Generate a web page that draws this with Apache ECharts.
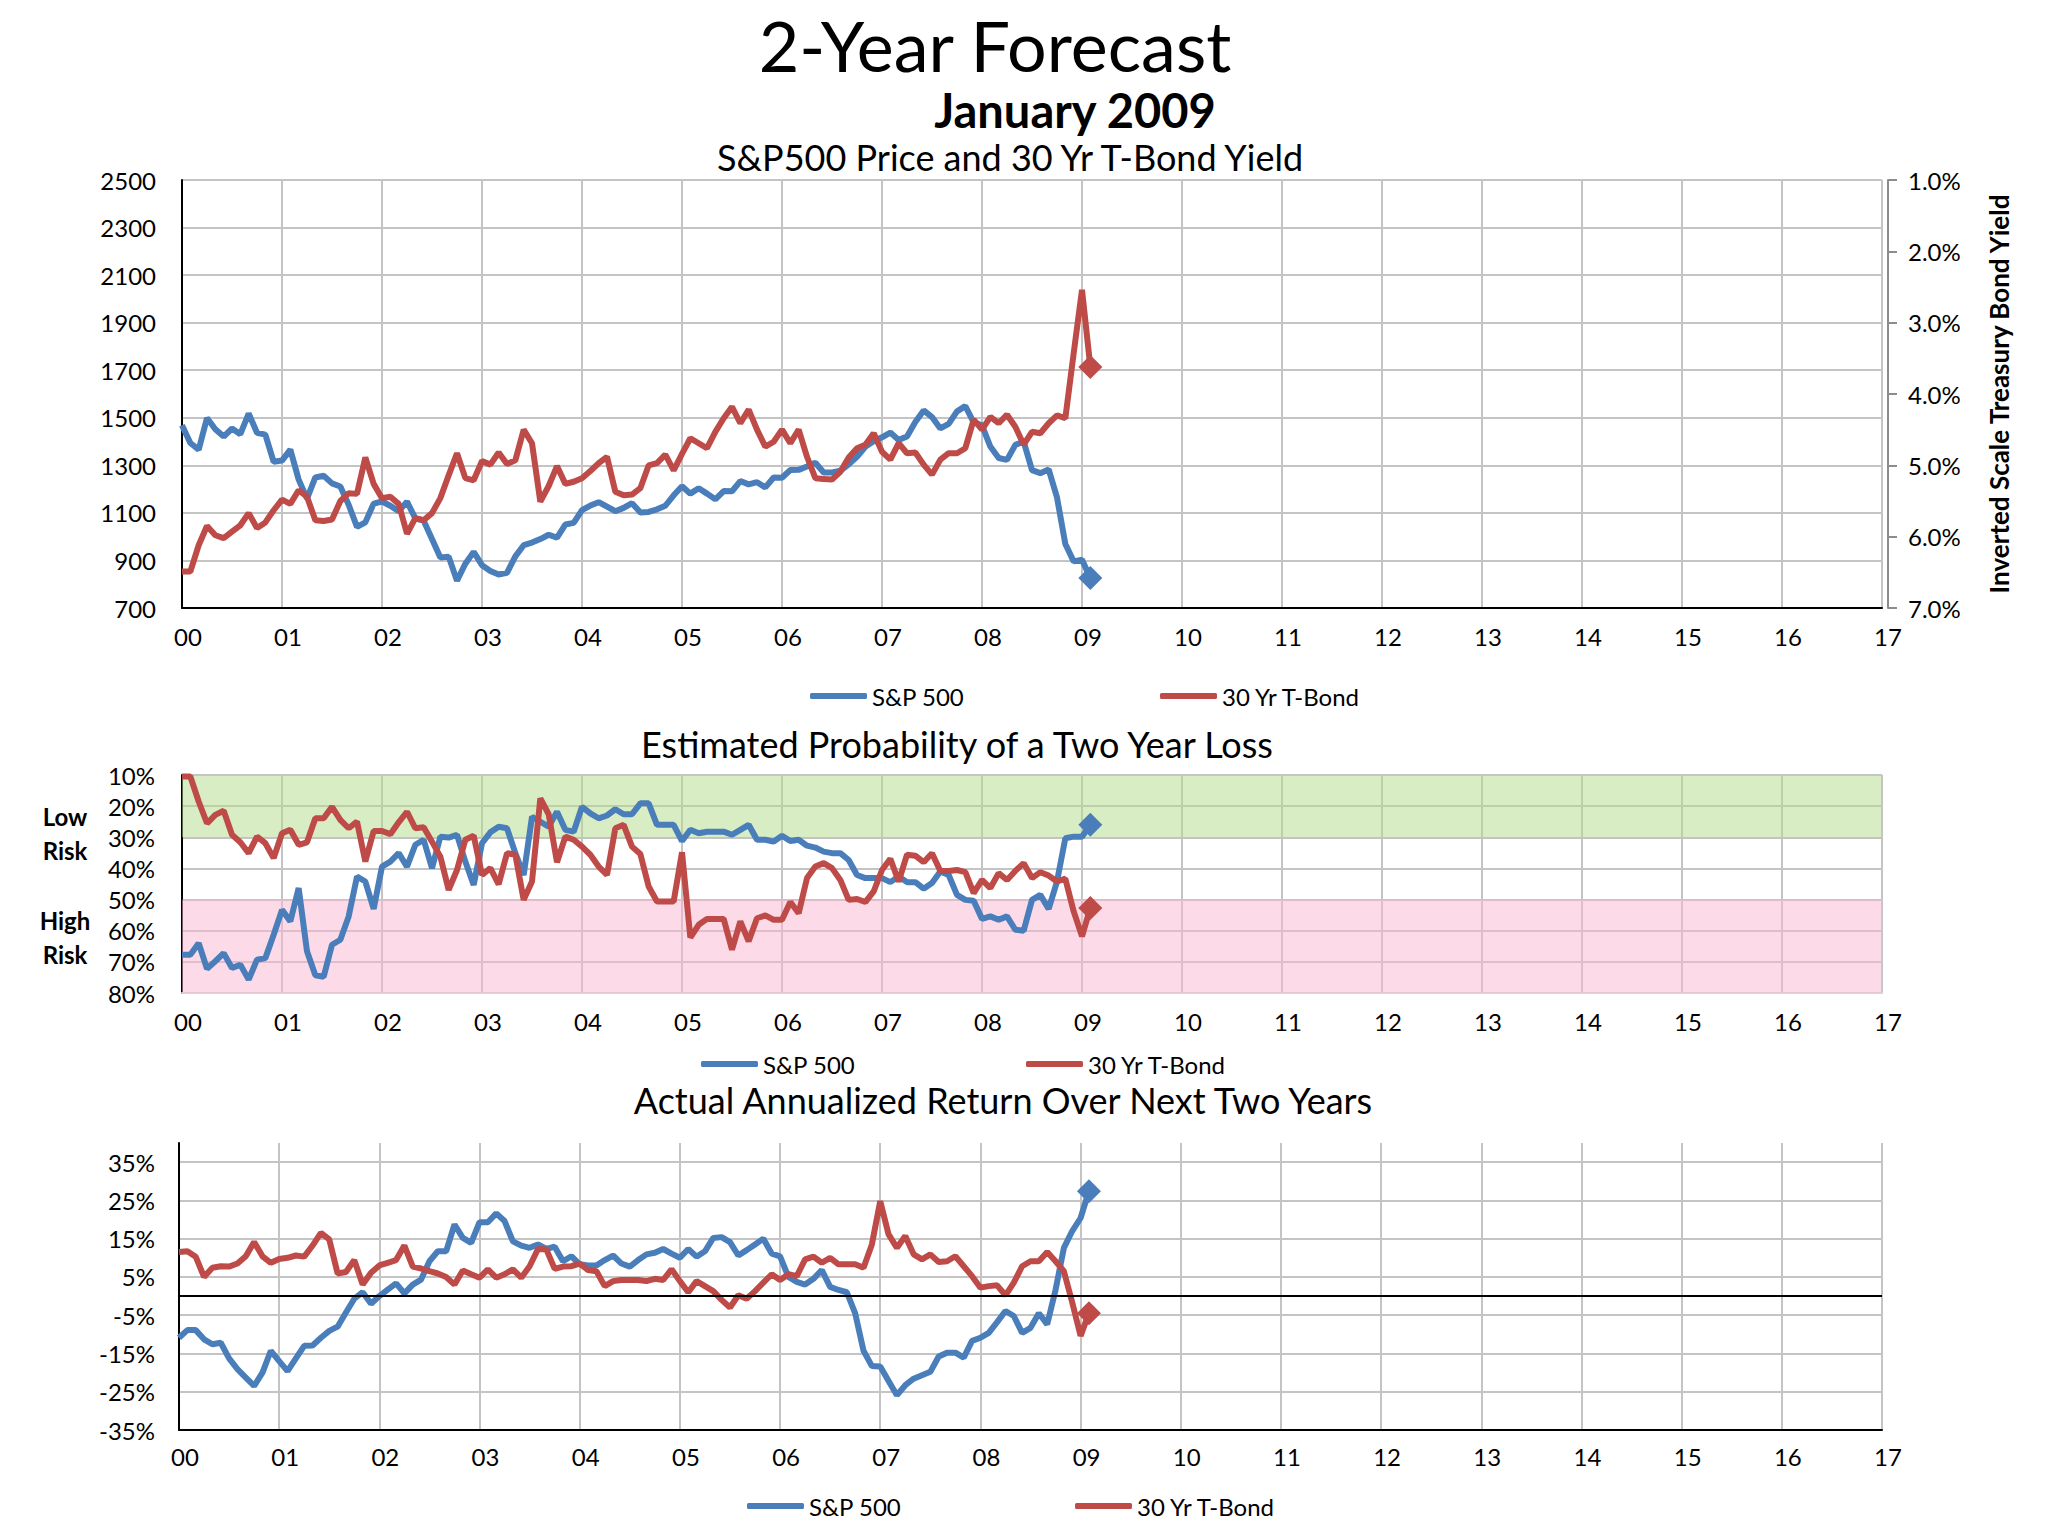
<!DOCTYPE html>
<html><head><meta charset="utf-8">
<script src="https://cdn.jsdelivr.net/npm/echarts@6/dist/echarts.min.js"></script>
<style>html,body{margin:0;padding:0;background:#fff}#c{width:2048px;height:1536px}</style>
</head><body><div id="c"></div>
<script>
// ---- data (monthly, starting Jan 2000; last point = latest reading) ----
const spPrice = [1469,1394,1366,1499,1452,1421,1455,1431,1518,1437,1429,1315,
 1320,1366,1240,1160,1249,1256,1224,1211,1134,1041,1060,1139,
 1148,1130,1107,1147,1077,1067,990,912,916,815,886,936,
 880,856,841,848,917,964,975,990,1008,996,1051,1058,
 1112,1131,1145,1126,1107,1121,1141,1102,1104,1115,1130,1174,
 1212,1181,1204,1181,1157,1192,1191,1234,1220,1229,1207,1249,
 1248,1280,1281,1295,1311,1270,1270,1277,1304,1336,1378,1401,
 1418,1438,1407,1421,1482,1531,1503,1455,1474,1527,1549,1481,
 1468,1379,1331,1323,1386,1400,1280,1267,1283,1165,969,896,
 903,826];
const bondYield = [6.49,6.49,6.12,5.85,5.98,6.02,5.93,5.84,5.67,5.88,5.80,5.63,
 5.48,5.54,5.35,5.44,5.77,5.78,5.76,5.50,5.39,5.40,4.89,5.26,
 5.46,5.44,5.54,5.96,5.74,5.77,5.67,5.46,5.14,4.83,5.18,5.21,
 4.94,4.99,4.82,4.98,4.93,4.50,4.69,5.51,5.29,5.01,5.26,5.23,
 5.18,5.08,4.97,4.88,5.37,5.42,5.41,5.32,5.00,4.97,4.85,5.07,
 4.84,4.62,4.69,4.76,4.53,4.34,4.18,4.41,4.22,4.50,4.74,4.67,
 4.50,4.69,4.50,4.88,5.18,5.19,5.20,5.09,4.89,4.76,4.71,4.55,
 4.81,4.92,4.69,4.83,4.82,4.99,5.13,4.92,4.83,4.83,4.76,4.36,
 4.50,4.32,4.41,4.29,4.46,4.71,4.53,4.55,4.41,4.30,4.34,3.43,
 2.54,3.62];
const spLossProb = [67.7,67.7,64.0,72.2,69.8,67.2,72.0,70.9,75.7,69.3,68.8,61.3,
 53.3,57.0,46.3,66.6,74.3,74.8,64.5,62.9,55.4,42.6,44.2,53.0,
 39.4,37.8,35.1,39.4,32.4,30.8,39.9,29.8,30.1,29.2,37.8,45.3,
 31.9,28.4,26.6,27.1,35.1,42.1,23.4,25.0,26.6,21.8,27.6,28.2,
 20.2,22.3,23.9,23.0,21.0,22.6,22.6,19.1,19.1,26.0,26.0,26.0,
 31.2,27.6,28.7,28.2,28.2,28.2,29.2,27.6,26.0,30.8,30.8,31.4,
 29.5,31.2,30.8,32.7,33.3,34.6,35.1,35.1,37.3,42.1,43.1,43.1,
 43.1,44.4,42.6,44.4,44.4,46.5,44.7,41.0,42.1,48.5,50.1,50.4,
 56.2,55.4,56.5,55.4,59.7,60.0,50.1,48.5,53.0,44.2,30.3,29.8,
 29.8,26.0];
const bondLossProb = [10.5,10.5,18.5,25.5,22.8,21.5,29.2,31.6,35.1,29.8,31.9,36.7,
 28.7,27.6,32.4,31.6,23.9,23.9,20.2,24.4,27.1,25.0,37.8,28.0,
 28.0,29.0,25.2,21.8,27.1,26.8,31.4,36.2,46.9,40.5,30.8,29.5,
 42.1,39.9,45.1,35.1,35.6,50.1,44.2,17.5,22.6,38.0,29.8,30.8,
 33.0,35.6,39.4,42.1,27.1,26.0,33.0,35.4,45.8,50.6,50.6,50.6,
 34.8,62.2,58.1,56.2,56.2,56.2,66.1,57.0,63.4,56.0,55.1,56.5,
 56.5,50.8,54.4,43.1,39.4,38.3,39.9,43.7,50.1,49.8,50.8,47.4,
 40.5,36.9,44.2,35.6,35.9,38.0,35.1,40.8,40.8,40.5,41.2,47.9,
 43.7,46.3,41.5,43.7,40.8,38.3,43.1,41.2,42.3,44.2,43.3,53.8,
 61.8,52.7];
const spReturn = [-10.9,-8.9,-8.9,-11.3,-12.6,-12.2,-16.3,-19.1,-21.3,-23.5,-20.0,-14.3,
 -17.0,-19.6,-16.3,-13.0,-12.9,-10.9,-9.1,-8.0,-4.3,-0.7,1.0,-2.0,
 0.0,1.7,3.3,0.7,3.0,4.3,9.1,11.7,11.7,18.7,15.2,13.9,
 19.3,19.3,21.6,19.6,14.3,13.2,12.6,13.5,12.3,12.9,9.1,10.4,
 8.3,8.0,8.0,9.4,10.6,8.5,7.7,9.4,10.9,11.3,12.3,11.1,
 10.0,12.3,10.3,11.7,15.2,15.4,14.1,10.6,12.0,13.5,15.0,11.1,
 10.4,5.0,3.7,3.0,4.5,6.8,2.4,1.6,1.0,-4.5,-14.3,-18.3,
 -18.4,-22.2,-25.9,-23.3,-21.6,-20.7,-19.8,-15.8,-14.8,-14.8,-16.1,-11.7,
 -10.9,-9.6,-6.8,-3.9,-5.2,-9.6,-8.3,-4.5,-7.4,1.6,12.6,17.0,
 20.4,27.4];
const bondReturn = [11.5,11.7,10.3,5.0,7.4,7.8,7.7,8.5,10.4,14.1,10.4,8.7,
 9.7,10.0,10.6,10.3,13.2,16.5,14.8,5.9,6.3,9.4,3.0,6.1,
 8.0,8.7,9.4,13.2,7.7,7.2,6.5,5.9,5.0,3.0,6.7,5.7,
 4.8,7.0,4.8,5.7,7.0,4.8,7.8,12.3,12.2,7.1,7.7,7.8,
 8.5,6.8,6.5,2.6,3.9,4.2,4.2,4.2,3.9,4.5,4.2,7.0,
 3.9,1.0,3.9,2.6,1.3,-1.0,-3.0,0.2,-0.7,1.3,3.5,5.7,
 4.2,5.7,5.2,9.6,10.3,8.7,10.0,8.3,8.3,8.3,7.4,13.5,
 24.8,16.1,12.6,15.7,10.9,9.6,10.9,8.9,9.1,10.4,7.8,5.2,
 2.2,2.6,2.8,0.2,3.5,7.8,9.1,9.1,11.5,9.1,6.5,-1.7,
 -10.4,-4.5];
const yearLabels = ['00','01','02','03','04','05','06','07','08','09','10','11','12','13','14','15','16','17'];
const seriesNames = ['S&P 500','30 Yr T-Bond'];

// month categories Jan 2000 .. Jan 2017
const months = [];
for (let y = 2000; y <= 2017; y++) {
  for (let m = 1; m <= 12; m++) {
    if (y === 2017 && m > 1) break;
    months.push(y + '-' + String(m).padStart(2, '0'));
  }
}

const FONT = 'Lato';
const BLUE = '#4a7ebb', RED = '#be4b48';
const GRID = '#c4c4c4';
const isYear = (i, v) => String(v).endsWith('-01');

function withDiamond(arr) {
  return arr.map((v, i) => i === arr.length - 1 ? { value: v, symbol: 'diamond', symbolSize: 24 } : v);
}

function xAxisFor(gridIndex, lineColor, margin) {
  return {
    type: 'category', gridIndex, data: months, boundaryGap: false,
    axisLine: { show: true, onZero: false, lineStyle: { color: lineColor, width: 2 } },
    axisTick: { show: false },
    axisLabel: {
      interval: isYear, color: '#000', fontFamily: FONT, fontSize: 24, margin,
      padding: [0, 0, 0, 12],
      formatter: v => yearLabels[parseInt(v.slice(0, 4)) - 2000]
    },
    splitLine: { show: true, interval: isYear, lineStyle: { color: GRID, width: 2 } }
  };
}

function lineSeries(name, xi, yi, data, color, z) {
  return {
    name, type: 'line', xAxisIndex: xi, yAxisIndex: yi, data: withDiamond(data),
    symbol: 'none', showSymbol: true, showAllSymbol: true, z,
    lineStyle: { color, width: 6 }, itemStyle: { color, borderWidth: 0 },
    emphasis: { disabled: true }, animation: false
  };
}

const labelStyle = { color: '#000', fontFamily: FONT, fontSize: 24 };

function legendAt(name, left, top) {
  return {
    data: [name], left, top, icon: 'roundRect', itemWidth: 57, itemHeight: 6, itemGap: 0,
    textStyle: { color: '#000', fontFamily: FONT, fontSize: 24 }, selectedMode: false
  };
}

const option = {
  backgroundColor: '#fff',
  animation: false,
  grid: [
    { left: 182, top: 180, width: 1700, height: 428 },
    { left: 182, top: 775, width: 1700, height: 218 },
    { left: 179, top: 1143, width: 1703, height: 287 }
  ],
  xAxis: [xAxisFor(0, '#000', 16), xAxisFor(1, '#d6d6d6', 16), xAxisFor(2, '#000', 14)],
  yAxis: [
    { type: 'value', gridIndex: 0, min: 700, max: 2500, interval: 200,
      axisLine: { show: true, lineStyle: { color: '#000', width: 2 } }, axisTick: { show: false },
      axisLabel: Object.assign({ margin: 26, formatter: v => String(v) }, labelStyle),
      splitLine: { lineStyle: { color: GRID, width: 2 } } },
    { type: 'value', gridIndex: 0, position: 'right', min: 1, max: 7, interval: 1, inverse: true, offset: 6,
      axisLine: { show: true, lineStyle: { color: '#8c8c8c', width: 2 } },
      axisTick: { show: true, length: 9, lineStyle: { color: '#8c8c8c', width: 2 } },
      axisLabel: Object.assign({ margin: 20, formatter: v => v.toFixed(1) + '%' }, labelStyle),
      splitLine: { show: false },
      name: 'Inverted Scale Treasury Bond Yield', nameLocation: 'middle', nameRotate: 90, nameGap: 98,
      nameTextStyle: { color: '#000', fontFamily: FONT, fontSize: 26, fontWeight: 'bold' } },
    { type: 'value', gridIndex: 1, min: 10, max: 80, interval: 10, inverse: true,
      axisLine: { show: true, lineStyle: { color: '#000', width: 2 } }, axisTick: { show: false },
      axisLabel: Object.assign({ margin: 27, formatter: '{value}%' }, labelStyle),
      splitLine: { lineStyle: { color: GRID, width: 2 } } },
    { type: 'value', gridIndex: 2, min: -35, max: 40, interval: 10,
      axisLine: { show: true, lineStyle: { color: '#000', width: 2 } }, axisTick: { show: false },
      axisLabel: Object.assign({ margin: 24, formatter: '{value}%', showMaxLabel: false }, labelStyle),
      splitLine: { showMaxLine: false, lineStyle: { color: GRID, width: 2 } } }
  ],
  legend: [
    legendAt(seriesNames[0], 805, 679), legendAt(seriesNames[1], 1155, 679),
    legendAt(seriesNames[0], 696, 1047), legendAt(seriesNames[1], 1021, 1047),
    legendAt(seriesNames[0], 742, 1489), legendAt(seriesNames[1], 1070, 1489)
  ],
  series: [
    lineSeries(seriesNames[0], 0, 0, spPrice, BLUE, 3),
    lineSeries(seriesNames[1], 0, 1, bondYield, RED, 4),
    { type: 'line', xAxisIndex: 1, yAxisIndex: 2, data: spLossProb, symbol: 'none', z: 1, silent: true,
      lineStyle: { opacity: 0 },
      markArea: { silent: true, data: [
        [{ yAxis: 10, itemStyle: { color: 'rgba(177,219,137,0.5)' } }, { yAxis: 30 }],
        [{ yAxis: 50, itemStyle: { color: 'rgba(251,181,209,0.5)' } }, { yAxis: 80 }]
      ] } },
    lineSeries(seriesNames[0], 1, 2, spLossProb, BLUE, 3),
    lineSeries(seriesNames[1], 1, 2, bondLossProb, RED, 4),
    { type: 'line', xAxisIndex: 2, yAxisIndex: 3, data: spReturn, symbol: 'none', z: 1, silent: true,
      lineStyle: { opacity: 0 },
      markLine: { silent: true, symbol: 'none', label: { show: false },
        lineStyle: { color: '#000', width: 2, type: 'solid' }, data: [{ yAxis: 0 }] } },
    lineSeries(seriesNames[0], 2, 3, spReturn, BLUE, 3),
    lineSeries(seriesNames[1], 2, 3, bondReturn, RED, 4)
  ],
  graphic: [
    { type: 'text', x: 995, y: 45, style: { text: '2-Year Forecast', font: '70px Lato', fill: '#000', textAlign: 'center', textVerticalAlign: 'middle' } },
    { type: 'text', x: 1075, y: 110, style: { text: 'January 2009', font: 'bold 47px Lato', fill: '#000', textAlign: 'center', textVerticalAlign: 'middle' } },
    { type: 'text', x: 1010, y: 157, style: { text: 'S&P500 Price and 30 Yr T-Bond Yield', font: '36px Lato', fill: '#000', textAlign: 'center', textVerticalAlign: 'middle' } },
    { type: 'text', x: 957, y: 744, style: { text: 'Estimated Probability of a Two Year Loss', font: '36px Lato', fill: '#000', textAlign: 'center', textVerticalAlign: 'middle' } },
    { type: 'text', x: 1003, y: 1100, style: { text: 'Actual Annualized Return Over Next Two Years', font: '36px Lato', fill: '#000', textAlign: 'center', textVerticalAlign: 'middle' } },
    { type: 'text', x: 65, y: 816, style: { text: 'Low', font: 'bold 24px Lato', fill: '#000', textAlign: 'center', textVerticalAlign: 'middle' } },
    { type: 'text', x: 65, y: 850, style: { text: 'Risk', font: 'bold 24px Lato', fill: '#000', textAlign: 'center', textVerticalAlign: 'middle' } },
    { type: 'text', x: 65, y: 920, style: { text: 'High', font: 'bold 24px Lato', fill: '#000', textAlign: 'center', textVerticalAlign: 'middle' } },
    { type: 'text', x: 65, y: 954, style: { text: 'Risk', font: 'bold 24px Lato', fill: '#000', textAlign: 'center', textVerticalAlign: 'middle' } }
  ]
};

const chart = echarts.init(document.getElementById('c'), null, { renderer: 'svg', width: 2048, height: 1536 });
chart.setOption(option);
</script>
</body></html>
